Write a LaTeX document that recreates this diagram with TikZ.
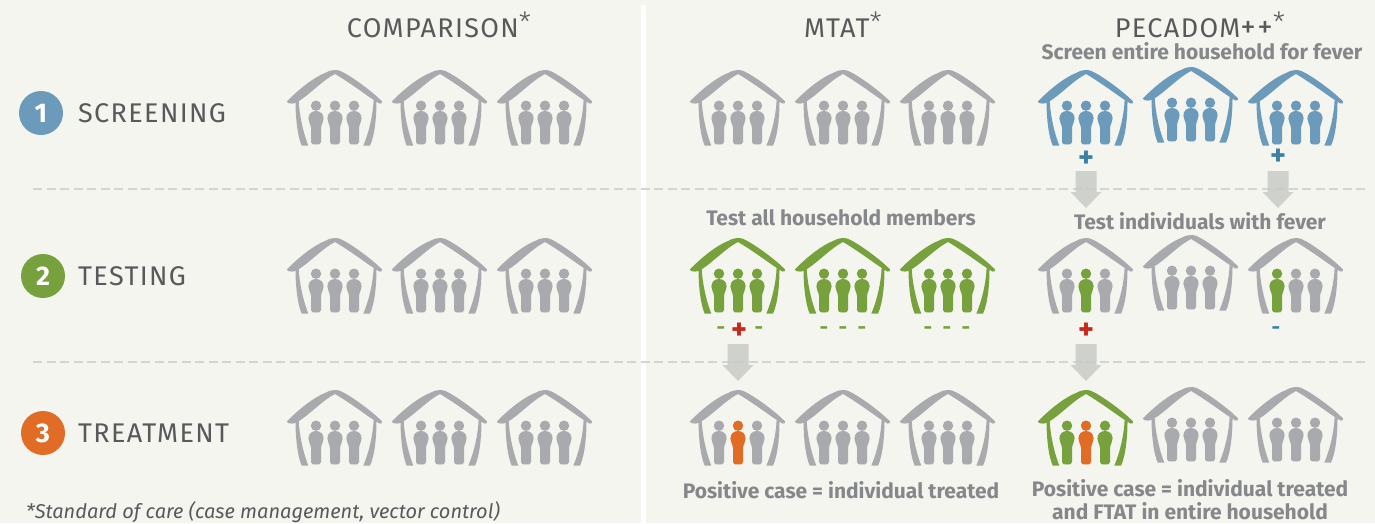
\documentclass[tikz,border=0pt]{standalone}
\usepackage{fontspec}
\setmainfont{Fira Sans}
\newfontfamily\spaced[LetterSpace=5]{Fira Sans}
\newfontfamily\thinf{Fira Sans Light}
\usetikzlibrary{calc}
\definecolor{bgc}{HTML}{F4F5EE}
\definecolor{gry}{HTML}{A9AAAD}
\definecolor{blu}{HTML}{6C9ABA}
\definecolor{grn}{HTML}{76A13C}
\definecolor{org}{HTML}{E06C26}
\definecolor{dashc}{HTML}{D3D4D4}
\definecolor{arr}{HTML}{C9CBC8}
\definecolor{txt}{HTML}{58595B}
\definecolor{boldc}{HTML}{85878A}
\definecolor{bplus}{HTML}{3D80A6}
\definecolor{rplus}{HTML}{C4291C}
\newcommand{\person}[2]{%
  \begin{scope}[shift={(#1,0)}]
  \fill[#2] (0,35.7) circle (5.2);
  \fill[#2] (0,41) .. controls (4.5,41) and (7.6,44) .. (7.6,48.5)
    .. controls (7.6,52) and (5.4,54) .. (5,58) -- (5,72)
    .. controls (5,74.5) and (3,74.5) .. (0,74.5)
    .. controls (-3,74.5) and (-5,74.5) .. (-5,72) -- (-5,58)
    .. controls (-5.4,54) and (-7.6,52) .. (-7.6,48.5)
    .. controls (-7.6,44) and (-4.5,41) .. (0,41) -- cycle;
  \end{scope}}
\newcommand{\house}[6]{%
  \begin{scope}[shift={(#1,#2)}]
  \fill[#3] (-48.3,31.7) .. controls (-42,25) and (-25,9) .. (-10,3)
    .. controls (-5,0.5) and (-3,0) .. (0,0)
    .. controls (4,0) and (7,1.5) .. (10,3.3)
    .. controls (20,9) and (38,22) .. (47,31.5)
    .. controls (47.5,33) and (46,34.5) .. (44.5,33.5)
    .. controls (36,29) and (18,14.5) .. (0,4)
    .. controls (-12,10) and (-26,25) .. (-36.7,31.5)
    .. controls (-39,34) and (-47,34.5) .. (-48.3,31.7) -- cycle;
  \fill[#3] (-39.5,31) .. controls (-39.5,45) and (-38,65) .. (-33.3,75.7)
    -- (-26.7,75.7) .. controls (-32,62) and (-35.6,45) .. (-36.4,30) -- cycle;
  \fill[#3] (41.5,31) .. controls (41.5,45) and (40,65) .. (35,75.7)
    -- (28.3,75.7) .. controls (34,62) and (38,45) .. (38.6,30) -- cycle;
  \person{-19}{#4}\person{0}{#5}\person{19}{#6}
  \end{scope}}
\newcommand{\triple}[2]{%
  \house{#1}{#2}{gry}{gry}{gry}{gry}%
  \house{\numexpr#1+105\relax}{#2}{gry}{gry}{gry}{gry}%
  \house{\numexpr#1+210\relax}{#2}{gry}{gry}{gry}{gry}}
\newcommand{\blockarrow}[2]{%
  \fill[arr,opacity=.85] (#1-10.5,#2) -- ++(21,0) -- ++(0,21) -- ++(5,0)
    -- ++(-15.5,16) -- ++(-15.5,-16) -- ++(5,0) -- cycle;}
\newcommand{\astk}{\raisebox{5pt}{\thinf\fontsize{28}{28}\selectfont *}}
\tikzset{
  hdr/.style={font=\spaced\fontsize{27}{27}\selectfont,text=txt,inner sep=0pt},
  lbl/.style={font=\spaced\fontsize{27}{27}\selectfont,text=txt,inner sep=0pt,anchor=west},
  bnote/.style={font=\bfseries\fontsize{21}{23}\selectfont,text=boldc,inner sep=0pt,align=center},
  num/.style={circle,minimum size=44pt,inner sep=0pt,text=white,font=\bfseries\fontsize{27}{27}\selectfont},
  sgn/.style={font=\bfseries\fontsize{30}{30}\selectfont,inner sep=0pt},
  neg/.style={font=\bfseries\fontsize{21}{21}\selectfont,inner sep=0pt},
}
\begin{document}
\begin{tikzpicture}[x=1pt,y=-1pt]
\fill[bgc] (0,0) rectangle (1375,523);
\useasboundingbox (0,0) rectangle (1375,523);
\fill[white] (641,5) rectangle (645.5,523);
\draw[dashc,line width=2.6pt,dash pattern=on 9pt off 4.5pt] (33,189) -- (1365,189);
\draw[dashc,line width=2.6pt,dash pattern=on 9pt off 4.5pt] (33,362) -- (1365,362);
\node[hdr] (h1) at (439,25) {COMPARISON\astk};
\node[hdr] (h2) at (843,25) {MTAT\astk};
\node[hdr] (h3) at (1200,25) {PECADOM{\fontsize{31}{31}\selectfont ++}\astk};
\node[num,fill=blu] (n1) at (41,113) {1};
\node[num,fill=grn] (n2) at (43,276) {2};
\node[num,fill=org] (n3) at (43,433) {3};
\node[lbl] (l1) at (78,113) {SCREENING};
\node[lbl] (l2) at (78,276) {TESTING};
\node[lbl] (l3) at (78,433) {TREATMENT};
\triple{335}{70}\triple{335}{238}\triple{335}{390}
\triple{738}{70}
\house{738}{238}{grn}{grn}{grn}{grn}
\house{843}{238}{grn}{grn}{grn}{grn}
\house{948}{238}{grn}{grn}{grn}{grn}
\house{738}{390}{gry}{gry}{org}{gry}
\house{843}{390}{gry}{gry}{gry}{gry}
\house{948}{390}{gry}{gry}{gry}{gry}
\house{1086}{70}{blu}{blu}{blu}{blu}
\house{1191}{67}{blu}{blu}{blu}{blu}
\house{1296}{70}{blu}{blu}{blu}{blu}
\house{1086}{238}{gry}{gry}{grn}{gry}
\house{1191}{235}{gry}{gry}{gry}{gry}
\house{1296}{238}{gry}{grn}{gry}{gry}
\house{1086}{390}{grn}{grn}{org}{grn}
\house{1191}{387}{gry}{gry}{gry}{gry}
\house{1296}{387}{gry}{gry}{gry}{gry}
\node[bnote] (t1) at (1202,51) {Screen entire household for fever};
\node[bnote] (t2) at (841,218) {Test all household members};
\node[bnote] (t3) at (1200,221) {Test individuals with fever};
\node[bnote] (t4) at (841,490) {Positive case = individual treated};
\node[bnote,anchor=center] (t5) at (1190,499.5) {Positive case = individual treated\\and FTAT in entire household};
\node[font=\itshape\fontsize{20}{20}\selectfont,text=txt,inner sep=0pt,anchor=west] (fn) at (26,512) {*Standard of care (case management, vector control)};
\node[sgn,text=bplus] (s1) at (1086,159) {+};
\node[sgn,text=bplus] (s2) at (1278,157) {+};
\foreach \x/\c in {721/grn,759/grn,824/grn,843/grn,862/grn,928/grn,947/grn,966/grn}
  \node[neg,text=\c] at (\x,331) {-};
\node[sgn,text=rplus] (s0) at (739,331) {+};
\node[sgn,text=rplus] (s3) at (1086,331) {+};
\node[neg,text=bplus] (s4) at (1276,331) {-};
\blockarrow{1086}{171}\blockarrow{1278}{171}
\blockarrow{738}{344}\blockarrow{1086}{344}
\end{tikzpicture}
\end{document}
